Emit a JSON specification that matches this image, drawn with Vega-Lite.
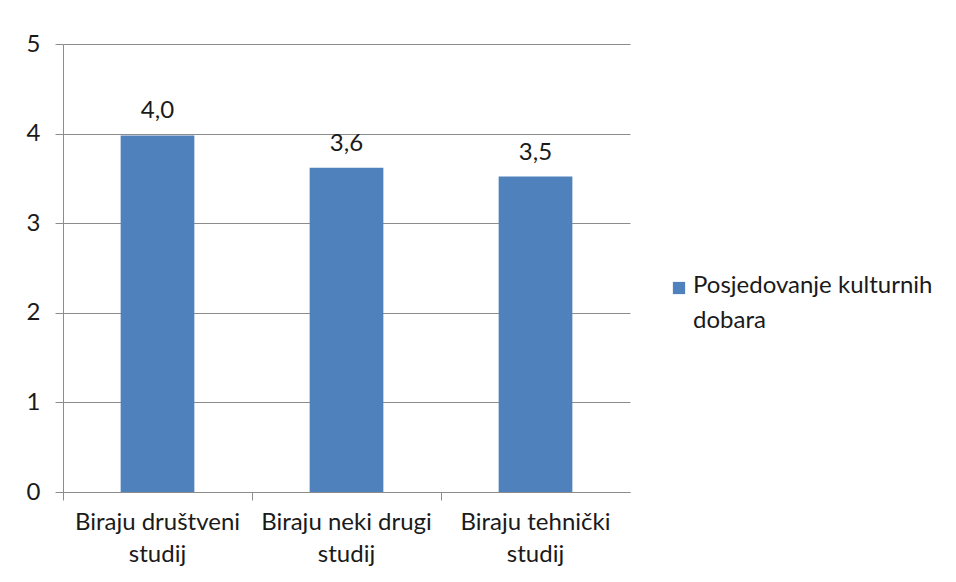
{
  "$schema": "https://vega.github.io/schema/vega-lite/v6.json",
  "width": 567,
  "height": 448,
  "autosize": "none",
  "padding": {"left": 63, "top": 44, "right": 326, "bottom": 90},
  "background": "white",
  "data": {
    "values": [
      {"kategorija": "Biraju društveni studij", "vrijednost": 3.98, "oznaka": "4,0", "serija": "Posjedovanje kulturnih dobara"},
      {"kategorija": "Biraju neki drugi studij", "vrijednost": 3.62, "oznaka": "3,6", "serija": "Posjedovanje kulturnih dobara"},
      {"kategorija": "Biraju tehnički studij", "vrijednost": 3.52, "oznaka": "3,5", "serija": "Posjedovanje kulturnih dobara"}
    ]
  },
  "encoding": {
    "x": {
      "field": "kategorija",
      "type": "nominal",
      "sort": null,
      "scale": {"paddingInner": 0, "paddingOuter": 0},
      "axis": {
        "title": null,
        "labelAngle": 0,
        "bandPosition": 0,
        "domainColor": "#8c8c8c",
        "tickColor": "#8c8c8c",
        "tickSize": 8,
        "labelFont": "Lato",
        "labelFontSize": 24,
        "labelColor": "#1a1a1a",
        "labelPadding": 10,
        "labelLineHeight": 32,
        "labelBaseline": "top",
        "labelLimit": 300,
        "labelExpr": "[slice(datum.value, 0, lastindexof(datum.value, ' ')), slice(datum.value, lastindexof(datum.value, ' ') + 1)]"
      }
    },
    "y": {
      "field": "vrijednost",
      "type": "quantitative",
      "scale": {"domain": [0, 5], "nice": false},
      "axis": {
        "title": null,
        "values": [0, 1, 2, 3, 4, 5],
        "grid": true,
        "gridColor": "#8c8c8c",
        "domainColor": "#8c8c8c",
        "tickColor": "#8c8c8c",
        "tickSize": 8,
        "labelFont": "Lato",
        "labelFontSize": 24,
        "labelColor": "#1a1a1a",
        "labelPadding": 15
      }
    }
  },
  "layer": [
    {
      "mark": {"type": "bar", "width": {"band": 0.39}, "color": "#4F81BD"},
      "encoding": {
        "color": {
          "field": "serija",
          "type": "nominal",
          "scale": {"range": ["#4F81BD"]},
          "legend": {
            "title": null,
            "orient": "none",
            "legendX": 604,
            "legendY": 232,
            "symbolType": "square",
            "symbolSize": 150,
            "symbolStrokeWidth": 0,
            "labelFont": "Lato",
            "labelFontSize": 24,
            "labelColor": "#1a1a1a",
            "labelBaseline": "top",
            "labelOffset": 2,
            "labelLimit": 400,
            "labelExpr": "['Posjedovanje kulturnih', 'dobara']",
            "encode": {"labels": {"update": {"lineHeight": {"value": 35}, "dy": {"value": -14}}}}
          }
        }
      }
    },
    {
      "mark": {"type": "text", "dy": -24, "font": "Lato", "fontSize": 24, "color": "#1a1a1a"},
      "encoding": {"text": {"field": "oznaka"}}
    }
  ],
  "config": {"view": {"stroke": null}}
}
